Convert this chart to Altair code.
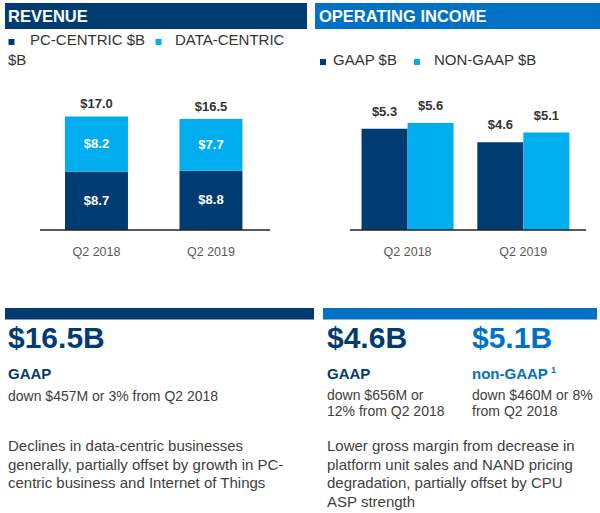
import altair as alt
import pandas as pd

# ---- values ----
quarters = ["Q2 2018", "Q2 2019"]
pc_centric = [8.7, 8.8]
data_centric = [8.2, 7.7]
revenue_total = [17.0, 16.5]
op_gaap = [5.3, 4.6]
op_non_gaap = [5.6, 5.1]

rev_segments = ["PC-CENTRIC $B", "DATA-CENTRIC $B"]
op_series = ["GAAP $B", "NON-GAAP $B"]

NAVY = "#003C71"
SKY = "#00AEEF"
BLUE = "#0071C5"
INK = "#333333"
BODY = "#404040"
FONT = "Liberation Sans"

rev = pd.DataFrame({
    "quarter": quarters * 2,
    "segment": [rev_segments[0]] * 2 + [rev_segments[1]] * 2,
    "rank": [0, 0, 1, 1],
    "value": pc_centric + data_centric,
})
rev_tot = pd.DataFrame({"quarter": quarters, "total": revenue_total})
op = pd.DataFrame({
    "quarter": quarters * 2,
    "series": [op_series[0]] * 2 + [op_series[1]] * 2,
    "value": op_gaap + op_non_gaap,
})
zero = pd.DataFrame({"base": [0]})
one = alt.Data(values=[{}])


def money(field):
    return f"'$' + format(datum.{field}, '.1f')"


# ---- revenue panel ----
rev_x = alt.Scale(type="band", domain=quarters, range=[30.65, 276.8],
                  paddingInner=0.45, paddingOuter=0.3)
rev_y = alt.Scale(domain=[0, 20], range=[230, 95.6], nice=False, zero=True)
rev_color = alt.Scale(domain=rev_segments, range=[NAVY, SKY])

rev_stack = alt.Chart(rev).transform_stack(
    stack="value", groupby=["quarter"], as_=["y0", "y1"], sort=[alt.SortField("rank")]
).transform_calculate(mid="(datum.y0 + datum.y1) / 2", label=money("value"))

rev_bars = rev_stack.mark_bar().encode(
    x=alt.X("quarter:N", scale=rev_x, axis=None),
    y=alt.Y("y0:Q", scale=rev_y, axis=None),
    y2="y1:Q",
    color=alt.Color("segment:N", scale=rev_color, legend=None),
)
rev_seg_labels = rev_stack.mark_text(
    font=FONT, fontSize=13, fontWeight="bold", color="white", baseline="middle"
).encode(
    x=alt.X("quarter:N", scale=rev_x, axis=None),
    y=alt.Y("mid:Q", scale=rev_y, axis=None),
    text="label:N",
)
rev_tot_labels = alt.Chart(rev_tot).transform_calculate(label=money("total")).mark_text(
    font=FONT, fontSize=13, fontWeight="bold", color=INK, baseline="middle", dy=-12
).encode(
    x=alt.X("quarter:N", scale=rev_x, axis=None),
    y=alt.Y("total:Q", scale=rev_y, axis=None),
    text="label:N",
)
rev_base = alt.Chart(zero).mark_rule(color="#222222", strokeWidth=1.5).encode(
    x=alt.value(40), x2=alt.value(270),
    y=alt.Y("base:Q", scale=rev_y, axis=None),
)
rev_ticks = alt.Chart(rev_tot).mark_text(
    font=FONT, fontSize=12.5, color="#595959", baseline="middle"
).encode(
    x=alt.X("quarter:N", scale=rev_x, axis=None),
    y=alt.value(252),
    text="quarter:N",
)

# ---- operating income panel ----
op_x = alt.Scale(type="band", domain=quarters, range=[326.8, 604.1],
                 paddingInner=0.205, paddingOuter=0.3)
op_off = alt.Scale(type="band", domain=op_series, paddingInner=0, paddingOuter=0)
op_y = alt.Scale(domain=[0, 6], range=[230, 115.4], nice=False, zero=True)
op_color = alt.Scale(domain=op_series, range=[NAVY, SKY])

op_bars = alt.Chart(op).mark_bar().encode(
    x=alt.X("quarter:N", scale=op_x, axis=None),
    xOffset=alt.XOffset("series:N", scale=op_off),
    y=alt.Y("value:Q", scale=op_y, axis=None),
    color=alt.Color("series:N", scale=op_color, legend=None),
)
op_labels = alt.Chart(op).transform_calculate(label=money("value")).mark_text(
    font=FONT, fontSize=13, fontWeight="bold", color=INK, baseline="middle", dy=-17
).encode(
    x=alt.X("quarter:N", scale=op_x, axis=None),
    xOffset=alt.XOffset("series:N", scale=op_off),
    y=alt.Y("value:Q", scale=op_y, axis=None),
    text="label:N",
)
op_base = alt.Chart(zero).mark_rule(color="#222222", strokeWidth=1.5).encode(
    x=alt.value(350), x2=alt.value(586),
    y=alt.Y("base:Q", scale=op_y, axis=None),
)
op_ticks = alt.Chart(rev_tot).mark_text(
    font=FONT, fontSize=12.5, color="#595959", baseline="middle"
).encode(
    x=alt.X("quarter:N", scale=op_x, axis=None),
    y=alt.value(252),
    text="quarter:N",
)


# ---- headers, legends and notes ----
def box(x, x2, y, y2, color):
    return alt.Chart(one).mark_rect(color=color).encode(
        x=alt.value(x), x2=alt.value(x2), y=alt.value(y), y2=alt.value(y2)
    )


def label(txt, x, y, size=14, color=BODY, weight="normal", line_height=None):
    kw = dict(text=txt, font=FONT, fontSize=size, color=color, fontWeight=weight,
              align="left", baseline="alphabetic")
    if line_height is not None:
        kw["lineHeight"] = line_height
    return alt.Chart(one).mark_text(**kw).encode(x=alt.value(x), y=alt.value(y))


decor = [
    box(5, 307, 3, 29, NAVY),
    box(315, 600, 3, 29, BLUE),
    label("REVENUE", 8, 21.5, size=16.5, color="white", weight="bold"),
    label("OPERATING INCOME", 319, 21.5, size=16.5, color="white", weight="bold"),
    # legends
    box(8.5, 14.5, 39, 45, NAVY),
    label("PC-CENTRIC $B", 30, 45, size=15, color=INK),
    box(155.5, 161.5, 39, 45, SKY),
    label("DATA-CENTRIC", 175, 45, size=15, color=INK),
    label("$B", 8, 65, size=15, color=INK),
    box(320, 326, 59, 65, NAVY),
    label("GAAP $B", 333, 65, size=15, color=INK),
    box(414, 420, 59, 65, SKY),
    label("NON-GAAP $B", 434, 65, size=15, color=INK),
    # summary band
    box(5, 314, 308, 319.5, NAVY),
    box(323, 597, 308, 319.5, BLUE),
    label("$16.5B", 8, 348, size=30, color=NAVY, weight="bold"),
    label("$4.6B", 327, 348, size=30, color=NAVY, weight="bold"),
    label("$5.1B", 472, 348, size=30, color=BLUE, weight="bold"),
    label("GAAP", 8, 378.5, size=15, color=NAVY, weight="bold"),
    label("GAAP", 327, 378.5, size=15, color=NAVY, weight="bold"),
    label("non-GAAP", 472, 378.5, size=15, color=BLUE, weight="bold"),
    label("1", 551, 373, size=9, color=BLUE, weight="bold"),
    label("down $457M or 3% from Q2 2018", 8, 400.5, size=14),
    label(["down $656M or", "12% from Q2 2018"], 327, 400, size=14, line_height=16),
    label(["down $460M or 8%", "from Q2 2018"], 472, 400, size=14, line_height=16),
    label(["Declines in data-centric businesses",
           "generally, partially offset by growth in PC-",
           "centric business and Internet of Things"], 8, 451, size=15, line_height=18.6),
    label(["Lower gross margin from decrease in",
           "platform unit sales and NAND pricing",
           "degradation, partially offset by CPU",
           "ASP strength"], 327, 451, size=15, line_height=18.6),
]

chart = alt.layer(
    *decor,
    rev_bars, rev_seg_labels, rev_tot_labels, rev_base, rev_ticks,
    op_bars, op_labels, op_base, op_ticks,
).resolve_scale(
    x="independent", y="independent", color="independent", xOffset="independent"
).properties(
    width=600, height=513, padding=0,
    autosize=alt.AutoSizeParams(type="none"),
    background="white",
).configure_view(stroke=None)

chart.save("out.html", embed_options={"renderer": "svg", "actions": False})
